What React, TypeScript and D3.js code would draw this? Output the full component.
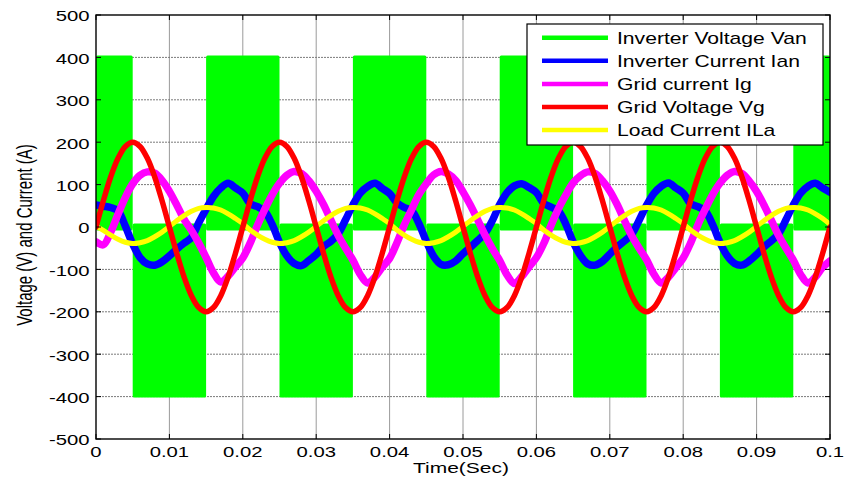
import React from 'react';
import * as d3 from 'd3';

// ---- data ----
const xTicks = [0, 0.01, 0.02, 0.03, 0.04, 0.05, 0.06, 0.07, 0.08, 0.09, 0.1];
const xTickLabels = ['0', '0.01', '0.02', '0.03', '0.04', '0.05', '0.06', '0.07', '0.08', '0.09', '0.1'];
const yTicks = [-500, -400, -300, -200, -100, 0, 100, 200, 300, 400, 500];
const yTickLabels = ['-500', '-400', '-300', '-200', '-100', '0', '100', '200', '300', '400', '500'];

const sampleStep = 0.001; // seconds between samples

// Inverter voltage Van: PWM half-cycle envelopes
const vanStart = [0, 0.005, 0.015, 0.025, 0.035, 0.045, 0.055, 0.065, 0.075, 0.085, 0.095];
const vanEnd = [0.005, 0.015, 0.025, 0.035, 0.045, 0.055, 0.065, 0.075, 0.085, 0.095, 0.1];
const vanLevel = [400, -400, 400, -400, 400, -400, 400, -400, 400, -400, 400];

// Inverter current Ian
const ianValues = [
  52, 49, 46, 38, 2, -40, -72, -87, -90, -82, -68, -52, -38, -25, 10, 42, 72, 92, 103, 92,
  80, 55, 48, 37, 6, -36, -68, -86, -91, -79, -65, -46, -34, -16, 17, 52, 80, 95, 103, 91,
  79, 57, 46, 39, 8, -34, -69, -88, -89, -80, -63, -48, -32, -15, 15, 53, 81, 97, 102, 93,
  81, 56, 47, 38, 7, -35, -67, -87, -90, -81, -64, -47, -33, -17, 16, 51, 79, 96, 104, 92,
  80, 55, 48, 38, 6, -36, -68, -86, -90, -80, -65, -47, -33, -16, 17, 52, 80, 96, 103, 92,
  82,
];

// Grid current Ig
const igValues = [
  -35, -42, -12, 30, 70, 102, 122, 130, 127, 110, 84, 52, 18, -8, -38, -72, -108, -130, -116, -94,
  -73, -38, 4, 42, 76, 103, 122, 131, 126, 109, 84, 53, 16, -20, -50, -78, -112, -132, -118, -95,
  -74, -37, 5, 41, 77, 102, 123, 131, 125, 110, 83, 52, 17, -19, -51, -79, -113, -133, -117, -94,
  -72, -39, 4, 43, 75, 104, 121, 130, 126, 109, 85, 53, 15, -21, -50, -77, -111, -132, -118, -96,
  -73, -38, 5, 42, 76, 103, 122, 131, 126, 108, 84, 52, 16, -20, -50, -78, -112, -132, -118, -95,
  -80,
];

// Grid voltage Vg
const vgValues = [
  0, 62, 118, 162, 190, 200, 190, 162, 118, 62, 0, -62, -118, -162, -190, -200, -190, -162, -118, -62,
  0, 62, 118, 162, 190, 200, 190, 162, 118, 62, 0, -62, -118, -162, -190, -200, -190, -162, -118, -62,
  0, 62, 118, 162, 190, 200, 190, 162, 118, 62, 0, -62, -118, -162, -190, -200, -190, -162, -118, -62,
  0, 62, 118, 162, 190, 200, 190, 162, 118, 62, 0, -62, -118, -162, -190, -200, -190, -162, -118, -62,
  0, 62, 118, 162, 190, 200, 190, 162, 118, 62, 0, -62, -118, -162, -190, -200, -190, -162, -118, -62,
  0,
];

// Load current ILa
const ilaValues = [
  2, -8, -19, -29, -36, -39, -37, -32, -23, -12, 1, 15, 27, 37, 44, 46, 45, 40, 31, 20,
  8, -7, -19, -29, -36, -39, -37, -32, -23, -12, 1, 15, 27, 37, 44, 46, 45, 40, 31, 20,
  8, -7, -19, -29, -36, -39, -37, -32, -23, -12, 1, 15, 27, 37, 44, 46, 45, 40, 31, 20,
  8, -7, -19, -29, -36, -39, -37, -32, -23, -12, 1, 15, 27, 37, 44, 46, 45, 40, 31, 20,
  8, -7, -19, -29, -36, -39, -37, -32, -23, -12, 1, 15, 27, 37, 44, 46, 45, 40, 31, 20,
  6,
];

const legendLabels = [
  'Inverter Voltage Van',
  'Inverter Current Ian',
  'Grid current Ig',
  'Grid Voltage Vg',
  'Load Current ILa',
];

// ---- styles ----
const GREEN = '#00ff00';
const BLUE = '#0000ff';
const MAGENTA = '#ff00ff';
const RED = '#ff0000';
const YELLOW = '#ffff00';
const legendColors = [GREEN, BLUE, MAGENTA, RED, YELLOW];
const FONT = '"Liberation Sans", Arial, Helvetica, sans-serif';

const W = 847;
const H = 486;
const PL = 96, PR = 830, PT = 15, PB = 439;

export default function App() {
  const x = d3.scaleLinear().domain([0, 0.1]).range([PL, PR]);
  const y = d3.scaleLinear().domain([-500, 500]).range([PB, PT]);

  const line = d3
    .line<number>()
    .x((_, i) => x(i * sampleStep))
    .y((d) => y(d))
    .curve(d3.curveCatmullRom.alpha(0.5));

  const series = [
    { values: ianValues, color: BLUE, width: 7.5 },
    { values: igValues, color: MAGENTA, width: 7.5 },
    { values: ilaValues, color: YELLOW, width: 5 },
    { values: vgValues, color: RED, width: 5.5 },
  ];

  const tick = 5;
  const legX = 527, legY = 24, legW = 296, legH = 121;

  return (
    <svg
      width={W}
      height={H}
      style={{ position: 'absolute', left: 0, top: 0, background: '#fff' }}
      fontFamily={FONT}
    >
      <defs>
        <clipPath id="plotClip">
          <rect x={PL} y={PT} width={PR - PL} height={PB - PT} />
        </clipPath>
      </defs>
      <rect x={0} y={0} width={W} height={H} fill="#fff" />

      {/* grid */}
      {xTicks.slice(1, -1).map((t, i) => (
        <line key={'gx' + i} x1={x(t)} x2={x(t)} y1={PT} y2={PB} stroke="#9a9a9a" strokeWidth={1} />
      ))}
      {yTicks.slice(1, -1).map((v, i) => (
        <line key={'gy' + i} x1={PL} x2={PR} y1={y(v)} y2={y(v)} stroke="#7a7a7a" strokeWidth={1} strokeDasharray="2,1" />
      ))}

      <g clipPath="url(#plotClip)">
        {/* Van PWM blocks */}
        {vanLevel.map((lv, i) => {
          const x0 = x(vanStart[i]);
          const x1 = x(vanEnd[i]);
          const yTop = lv > 0 ? y(lv) - 2 : y(0) - 3.5;
          const yBot = lv > 0 ? y(0) + 3.5 : y(lv) + 1;
          return (
            <rect key={'van' + i} x={x0} y={yTop} width={x1 - x0} height={yBot - yTop} fill={GREEN} rx={1.5} />
          );
        })}
        {series.map((s, i) => (
          <path
            key={'s' + i}
            d={line(s.values) || ''}
            fill="none"
            stroke={s.color}
            strokeWidth={s.width}
            strokeLinejoin="round"
            strokeLinecap="round"
          />
        ))}
      </g>

      {/* axes box */}
      <rect x={PL} y={PT} width={PR - PL} height={PB - PT} fill="none" stroke="#000" strokeWidth={1.4} />
      {xTicks.map((t, i) => (
        <g key={'xt' + i}>
          <line x1={x(t)} x2={x(t)} y1={PB} y2={PB - tick} stroke="#000" strokeWidth={1} />
          <line x1={x(t)} x2={x(t)} y1={PT} y2={PT + tick} stroke="#000" strokeWidth={1} />
          <text
            transform={`translate(${x(t)},456.5) scale(1.45,1)`}
            textAnchor="middle"
            fontSize={14}
            fill="#000"
          >
            {xTickLabels[i]}
          </text>
        </g>
      ))}
      {yTicks.map((v, i) => (
        <g key={'yt' + i}>
          <line x1={PL} x2={PL + tick} y1={y(v)} y2={y(v)} stroke="#000" strokeWidth={1} />
          <line x1={PR} x2={PR - tick} y1={y(v)} y2={y(v)} stroke="#000" strokeWidth={1} />
          <text
            transform={`translate(89.5,${y(v) + 6.3}) scale(1.45,1)`}
            textAnchor="end"
            fontSize={14}
            fill="#000"
          >
            {yTickLabels[i]}
          </text>
        </g>
      ))}

      {/* axis labels */}
      <text transform="translate(461,473) scale(1.4,1)" textAnchor="middle" fontSize={15} fill="#000">
        Time(Sec)
      </text>
      <text transform="translate(31.5,235) scale(1.5,1) rotate(-90)" textAnchor="middle" fontSize={15} fill="#000">
        Voltage (V) and Current (A)
      </text>

      {/* legend */}
      <rect x={legX} y={legY} width={legW} height={legH} fill="#fff" stroke="#000" strokeWidth={1.2} />
      {legendLabels.map((lab, i) => {
        const cy = legY + 13.7 + i * 23.1;
        return (
          <g key={'lg' + i}>
            <line x1={542} x2={608} y1={cy} y2={cy} stroke={legendColors[i]} strokeWidth={4.5} />
            <text
              transform={`translate(617,${cy + 5.8}) scale(1.32,1)`}
              fontSize={16}
              fill="#000"
            >
              {lab}
            </text>
          </g>
        );
      })}
    </svg>
  );
}
